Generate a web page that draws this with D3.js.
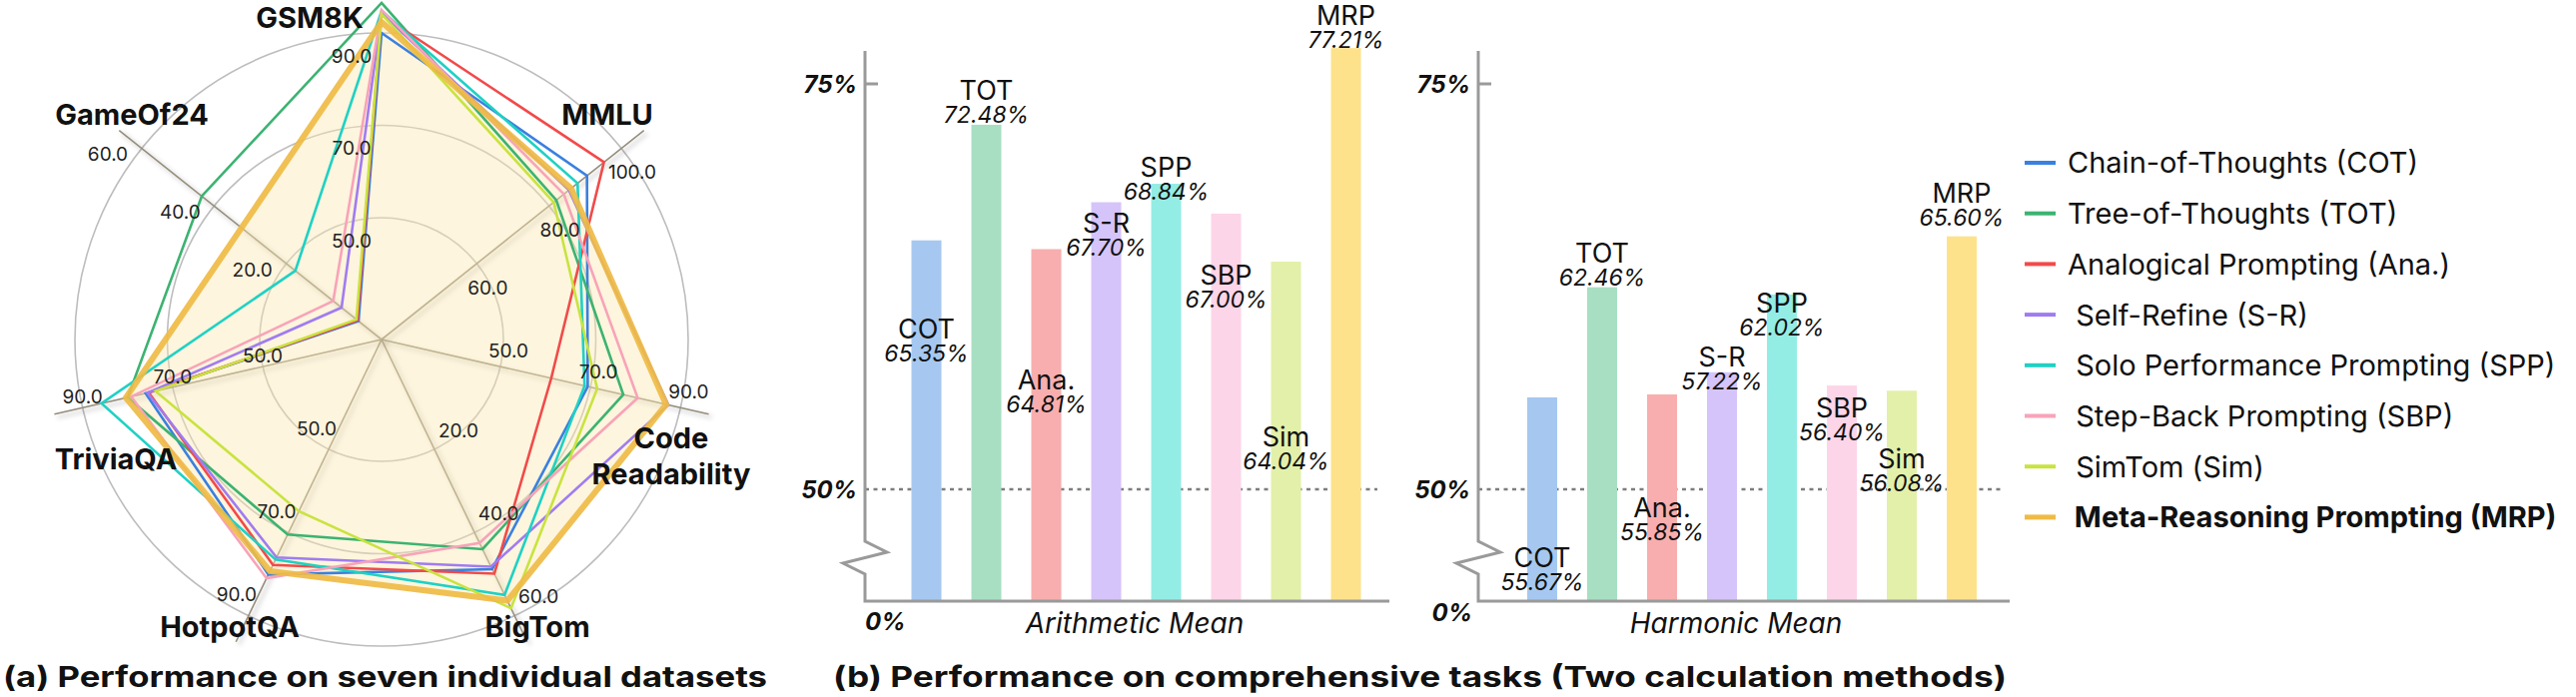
<!DOCTYPE html>
<html lang="en">
<head>
<meta charset="utf-8">
<title>Meta-Reasoning Prompting: performance</title>
<script src="https://d3js.org/d3.v7.min.js"></script>
<style>
  body { margin: 0; background: #fff; }
  svg text { font-family: Inter, "Noto Sans", sans-serif; fill: #111; }
</style>
</head>
<body>
<script>
  // ---------- data ----------
  var datasets = ["GSM8K", "MMLU", "Code Readability", "BigTom", "HotpotQA", "TriviaQA", "GameOf24"];
  // tick values shown on the three rings, per dataset axis
  var axisTicks = [[50, 70, 90], [60, 80, 100], [50, 70, 90], [20, 40, 60], [50, 70, 90], [50, 70, 90], [20, 40, 60]];

  var methods = ["COT", "TOT", "Ana.", "S-R", "SPP", "SBP", "Sim", "MRP"];
  var methodNames = ["Chain-of-Thoughts (COT)", "Tree-of-Thoughts (TOT)", "Analogical Prompting (Ana.)",
    " Self-Refine (S-R)", " Solo Performance Prompting (SPP)", " Step-Back Prompting (SBP)",
    " SimTom (Sim)", " Meta-Reasoning Prompting (MRP)"];

  // radar values, order of datasets
  var cotScores = [90.0, 90.5, 69.4, 48.8, 80.1, 76.0, 0.0];
  var totScores = [96.5, 82.0, 77.3, 44.0, 70.5, 80.0, 43.4];
  var anaScores = [93.9, 95.2, 61.3, 49.9, 77.8, 75.3, 0.3];
  var srScores  = [94.3, 85.5, 87.3, 48.2, 76.0, 75.6, 4.7];
  var sppScores = [94.8, 87.9, 68.7, 55.0, 76.5, 85.8, 17.5];
  var sbpScores = [95.0, 84.1, 80.5, 42.5, 81.0, 79.2, 7.0];
  var simScores = [94.1, 81.3, 71.5, 58.2, 64.9, 73.8, 0.6];
  var mrpScores = [92.4, 86.1, 86.8, 56.4, 79.3, 80.4, 32.4];
  var radarSeries = [cotScores, totScores, anaScores, srScores, sppScores, sbpScores, simScores, mrpScores];

  var arithmeticMean = [65.35, 72.48, 64.81, 67.70, 68.84, 67.00, 64.04, 77.21];
  var harmonicMean   = [55.67, 62.46, 55.85, 57.22, 62.02, 56.40, 56.08, 65.60];
  var yTickValues = [75, 50];

  // ---------- style / layout ----------
  var lineColors = ["#3a80e0", "#3cb371", "#f24a4a", "#a07cf0", "#1fd1c4", "#f8a3b9", "#c9e33f", "#efbb45"];
  var barColors  = ["#a6c8f0", "#a8dfc3", "#f8aeae", "#d5c4f9", "#94ede4", "#fdd5e8", "#e3f0aa", "#fde28b"];

  var svg = d3.select("body").append("svg")
    .attr("width", 2579)
    .attr("height", 698);

  var defs = svg.append("defs");
  defs.append("filter").attr("id", "axisShadow")
    .attr("x", "-20%").attr("y", "-20%").attr("width", "140%").attr("height", "140%")
    .append("feDropShadow")
    .attr("dx", 3).attr("dy", 3).attr("stdDeviation", 2.5)
    .attr("flood-color", "#000").attr("flood-opacity", 0.3);

  // ===================== (a) radar =====================
  var cx = 382, cy = 340;
  var ringR = [122, 214.5, 307];
  var axisLen = 336;
  var nAx = datasets.length;

  var angle = d3.scaleLinear().domain([0, nAx]).range([0, 2 * Math.PI]);
  var rScales = axisTicks.map(function (t) {
    return d3.scaleLinear().domain([t[0], t[2]]).range([ringR[0], ringR[2]]);
  });
  function pt(i, r) {
    var a = angle(i);
    return [cx + r * Math.sin(a), cy - r * Math.cos(a)];
  }

  var radar = svg.append("g");

  radar.selectAll(".ring")
    .data(ringR)
    .enter().append("circle")
    .attr("cx", cx).attr("cy", cy).attr("r", function (d) { return d; })
    .attr("fill", "none").attr("stroke", "#bdbdbd").attr("stroke-width", 1.6);

  radar.selectAll(".spoke")
    .data(datasets)
    .enter().append("line")
    .attr("x1", cx).attr("y1", cy)
    .attr("x2", function (d, i) { return pt(i, axisLen)[0]; })
    .attr("y2", function (d, i) { return pt(i, axisLen)[1]; })
    .attr("stroke", "#958d7c").attr("stroke-width", 1.6)
    .attr("filter", "url(#axisShadow)");

  var line = d3.line().curve(d3.curveLinearClosed);
  function polygon(vals) {
    return vals.map(function (v, i) { return pt(i, rScales[i](v)); });
  }

  // MRP area
  radar.append("path")
    .attr("d", line(polygon(mrpScores)))
    .attr("fill", "#fae7ad").attr("fill-opacity", 0.42).attr("stroke", "none");

  radar.selectAll(".series")
    .data(radarSeries)
    .enter().append("path")
    .attr("d", function (d) { return line(polygon(d)); })
    .attr("fill", "none")
    .attr("stroke", function (d, i) { return lineColors[i]; })
    .attr("stroke-width", function (d, i) { return i === 7 ? 6 : 2.6; })
    .attr("stroke-opacity", function (d, i) { return i === 7 ? 0.92 : 1; })
    .attr("stroke-linejoin", "miter");

  // ring tick labels (offset from the ring point, per axis)
  var tickShift = [[-30, 23], [11, 24], [8, -16], [24, -19], [-12, -21], [0, -11], [-34, 6]];
  axisTicks.forEach(function (t, i) {
    radar.selectAll(".tl" + i)
      .data(t)
      .enter().append("text")
      .attr("x", function (d, k) { return pt(i, ringR[k])[0] + tickShift[i][0]; })
      .attr("y", function (d, k) { return pt(i, ringR[k])[1] + tickShift[i][1]; })
      .attr("dy", "0.36em")
      .attr("text-anchor", "middle")
      .style("font-size", "19px")
      .style("fill", "#222")
      .text(function (d) { return d.toFixed(1); });
  });

  // dataset names
  var namePos = [[310, 28], [608, 125], [672, 449], [538, 638], [230, 638], [116, 470], [132, 125]];
  datasets.forEach(function (name, i) {
    var t = radar.append("text")
      .attr("x", namePos[i][0]).attr("y", namePos[i][1])
      .attr("text-anchor", "middle")
      .style("font-size", "29px").style("font-weight", 700);
    if (name === "Code Readability") {
      t.append("tspan").attr("x", namePos[i][0]).text("Code");
      t.append("tspan").attr("x", namePos[i][0]).attr("dy", 36).text("Readability");
    } else {
      t.text(name);
    }
  });

  svg.append("text")
    .attr("x", 3).attr("y", 688)
    .attr("textLength", 765).attr("lengthAdjust", "spacingAndGlyphs")
    .style("font-size", "29px").style("font-weight", 700)
    .text("(a) Performance on seven individual datasets");

  // ===================== (b) bars =====================
  var y = d3.scaleLinear().domain([50, 75]).range([490, 84]);
  var baseY = 602;

  var panels = [
    { values: arithmeticMean, axisX: 866, x0: 897.5, xEnd: 1391, dashEnd: 1379, title: "Arithmetic Mean", titleX: 1136,
      zeroX: 866, zeroAnchor: "start", zeroY: 631,
      nameY: [339, 100, 390, 233, 177, 285, 447, 25] },
    { values: harmonicMean, axisX: 1480, x0: 1514, xEnd: 2012, dashEnd: 2006, title: "Harmonic Mean", titleX: 1738,
      zeroX: 1474, zeroAnchor: "end", zeroY: 622,
      nameY: [568, 263, 518, 367, 313, 418, 469, 203] }
  ];

  panels.forEach(function (p) {
    var g = svg.append("g");
    var x = d3.scaleBand().domain(methods).range([p.x0, p.x0 + 480])
      .paddingInner(0.5).paddingOuter(0.25);

    // 50% reference
    g.append("line")
      .attr("x1", p.axisX).attr("x2", p.dashEnd)
      .attr("y1", y(50)).attr("y2", y(50))
      .attr("stroke", "#7d7d7d").attr("stroke-width", 2.4)
      .attr("stroke-dasharray", "4,4.5");

    g.selectAll(".bar")
      .data(p.values)
      .enter().append("rect")
      .attr("x", function (d, i) { return x(methods[i]); })
      .attr("width", x.bandwidth())
      .attr("y", function (d) { return y(d); })
      .attr("height", function (d) { return baseY - y(d); })
      .attr("fill", function (d, i) { return barColors[i]; });

    // broken y axis + x axis
    var ax = p.axisX;
    g.append("path")
      .attr("d", "M" + ax + ",51V542L" + (ax + 22) + ",553L" + (ax - 22) + ",564L" + ax + ",575V" + baseY + "H" + p.xEnd)
      .attr("fill", "none").attr("stroke", "#9a9a9a").attr("stroke-width", 3);
    g.append("line")
      .attr("x1", ax).attr("x2", ax + 13)
      .attr("y1", y(75)).attr("y2", y(75))
      .attr("stroke", "#9a9a9a").attr("stroke-width", 3);

    g.selectAll(".ytick")
      .data(yTickValues)
      .enter().append("text")
      .attr("x", ax - 8)
      .attr("y", function (d) { return y(d); })
      .attr("dy", "0.36em")
      .attr("text-anchor", "end")
      .style("font-size", "24px").style("font-weight", 700).style("font-style", "italic")
      .text(function (d) { return d + "%"; });

    g.append("text")
      .attr("x", p.zeroX).attr("y", p.zeroY)
      .attr("text-anchor", p.zeroAnchor)
      .style("font-size", "24px").style("font-weight", 700).style("font-style", "italic")
      .text("0%");

    g.append("text")
      .attr("x", p.titleX).attr("y", 634)
      .attr("text-anchor", "middle")
      .style("font-size", "28px").style("font-style", "italic")
      .text(p.title);

    // bar labels
    g.selectAll(".bname")
      .data(p.values)
      .enter().append("text")
      .attr("x", function (d, i) { return x(methods[i]) + x.bandwidth() / 2; })
      .attr("y", function (d, i) { return p.nameY[i]; })
      .attr("text-anchor", "middle")
      .style("font-size", "27px")
      .text(function (d, i) { return methods[i]; });

    g.selectAll(".bval")
      .data(p.values)
      .enter().append("text")
      .attr("x", function (d, i) { return x(methods[i]) + x.bandwidth() / 2; })
      .attr("y", function (d, i) { return p.nameY[i] + 23; })
      .attr("text-anchor", "middle")
      .style("font-size", "23px").style("font-style", "italic")
      .text(function (d) { return d.toFixed(2) + "%"; });
  });

  svg.append("text")
    .attr("x", 834).attr("y", 688)
    .attr("textLength", 1175).attr("lengthAdjust", "spacingAndGlyphs")
    .style("font-size", "29px").style("font-weight", 700)
    .text("(b) Performance on comprehensive tasks (Two calculation methods)");

  // ---------- legend ----------
  var legend = svg.append("g").attr("transform", "translate(2027,163)");
  var rows = legend.selectAll(".row")
    .data(methodNames)
    .enter().append("g")
    .attr("transform", function (d, i) { return "translate(0," + (i * 50.7) + ")"; });
  rows.append("line")
    .attr("x1", 0).attr("x2", 31)
    .attr("stroke", function (d, i) { return lineColors[i]; })
    .attr("stroke-width", function (d, i) { return i === 7 ? 5 : 4; });
  rows.append("text")
    .attr("x", 43)
    .attr("dy", "0.36em")
    .style("white-space", "pre")
    .style("font-size", "29px")
    .style("font-weight", function (d, i) { return i === 7 ? 700 : 400; })
    .text(function (d) { return d; });
</script>
</body>
</html>
